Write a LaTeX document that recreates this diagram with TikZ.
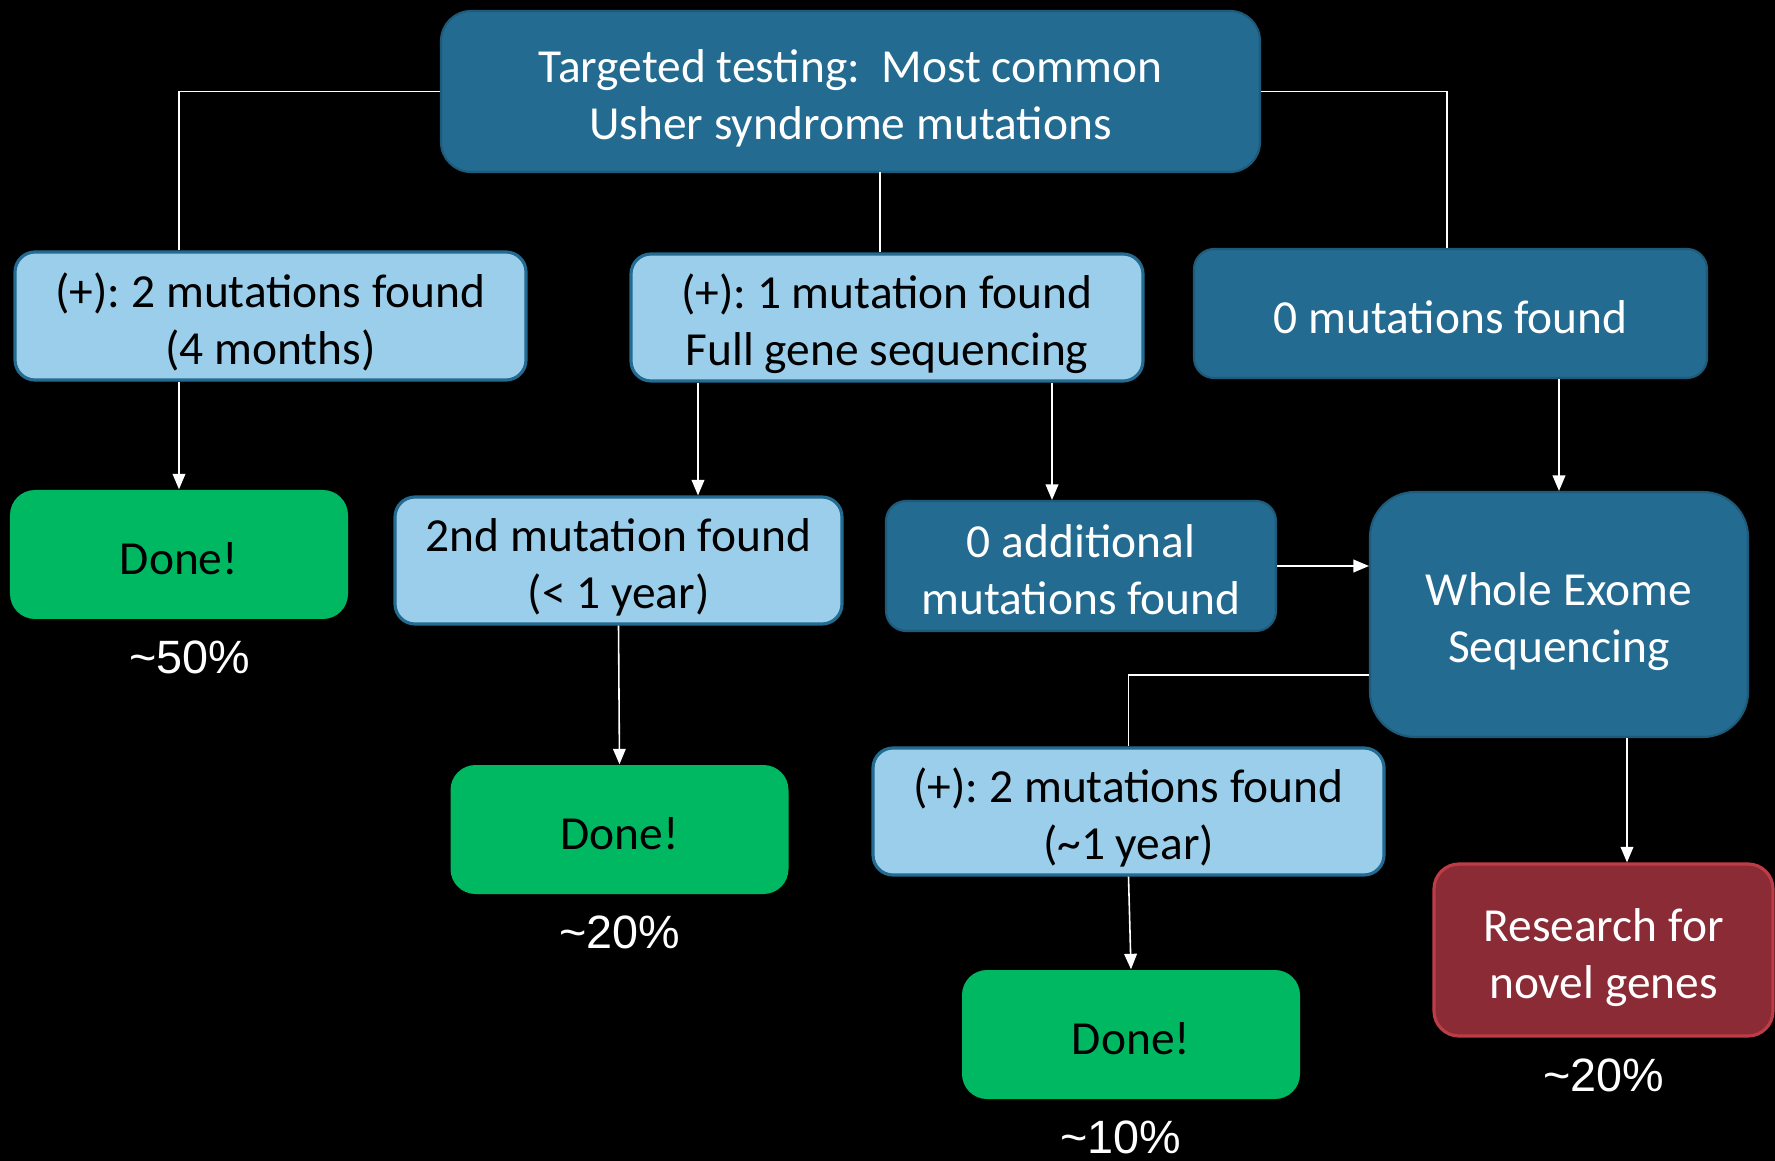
\documentclass[tikz,border=0pt]{standalone}
\usepackage{fontspec}
\setmainfont{Carlito}
\newfontfamily\pctfont{Liberation Sans}
\usetikzlibrary{positioning, arrows.meta}
\definecolor{usherblue}{RGB}{35,107,144}
\definecolor{lightblue}{RGB}{155,206,234}
\definecolor{donegreen}{RGB}{0,184,98}
\definecolor{novelred}{RGB}{138,43,54}
\definecolor{novelborder}{RGB}{190,60,70}
\frenchspacing
% centred lines with fixed top and bottom struts
\newcommand{\boxlines}[2]{\rule{0pt}{1.05em}#1\\#2\rule[-0.22em]{0pt}{0pt}}
\newcommand{\boxline}[1]{\rule{0pt}{1.05em}#1\rule[-0.22em]{0pt}{0pt}}

\begin{document}
\begin{tikzpicture}[
    box/.style={rectangle, rounded corners=0.2cm, align=center, inner sep=0pt, font=\fontsize{13.5}{16.2}\selectfont},
    darkbox/.style={box, fill=usherblue, draw=usherblue!85!black, line width=0.6pt, text=white},
    lightbox/.style={box, fill=lightblue, draw=usherblue, line width=0.9pt, text=black},
    donebox/.style={box, fill=donegreen, text=black, rounded corners=0.25cm, minimum width=3.38cm, minimum height=1.29cm},
    pct/.style={font=\pctfont\fontsize{13.3}{16}\selectfont, text=white},
    link/.style={white, line width=0.45pt},
    arr/.style={link, -{Triangle[width=3.6pt,length=4.4pt]}}
]
    \fill[black] (0,0) rectangle (17.75,-11.61);
    \useasboundingbox (0,0) rectangle (17.75,-11.61);

    % first test
    \node[darkbox, rounded corners=0.3cm, minimum width=8.19cm, minimum height=1.61cm] (targeted) at (8.505,-0.915) {\boxlines{Targeted testing:\ \ Most common}{Usher syndrome mutations}};

    % results of the first test
    \node[lightbox, minimum width=5.11cm, minimum height=1.28cm] (twofound) at (2.705,-3.16) {\boxlines{(+): 2 mutations found}{(4 months)}};
    \node[lightbox, minimum width=5.12cm, minimum height=1.27cm] (onefound) at (8.87,-3.175) {\boxlines{(+): 1 mutation found}{Full gene sequencing}};
    \node[darkbox, minimum width=5.13cm, minimum height=1.29cm] (nonefound) at (14.505,-3.135) {\boxline{0 mutations found}};

    % second row
    \node[donebox] (doneA) at (1.79,-5.545) {\boxline{Done!}};
    \node[lightbox, minimum width=4.47cm, minimum height=1.27cm] (second) at (6.185,-5.605) {\boxlines{2nd mutation found}{(< 1 year)}};
    \node[darkbox, minimum width=3.90cm, minimum height=1.30cm] (noextra) at (10.81,-5.66) {\boxlines{0 additional}{mutations found}};
    \node[darkbox, rounded corners=0.45cm, minimum width=3.78cm, minimum height=2.45cm] (exome) at (15.59,-6.145) {\boxlines{Whole Exome}{Sequencing}};

    % third row
    \node[donebox] (doneB) at (6.195,-8.295) {\boxline{Done!}};
    \node[lightbox, minimum width=5.11cm, minimum height=1.27cm] (exomefound) at (11.285,-8.115) {\boxlines{(+): 2 mutations found}{(\textasciitilde1 year)}};
    \node[box, fill=novelred, draw=novelborder, line width=0.9pt, text=white, rounded corners=0.25cm, minimum width=3.39cm, minimum height=1.72cm] (novel) at (16.035,-9.50) {\boxlines{Research for}{novel genes}};
    \node[donebox] (doneC) at (11.31,-10.345) {\boxline{Done!}};

    % shares
    \node[pct, below=0.09cm of doneA, xshift=0.11cm] (pctA) {\textasciitilde50\%};
    \node[pct, below=0.09cm of doneB] (pctB) {\textasciitilde20\%};
    \node[pct, below=0.09cm of doneC, xshift=-0.1cm] (pctC) {\textasciitilde10\%};
    \node[pct, below=0.09cm of novel] (pctD) {\textasciitilde20\%};

    % branch points
    \coordinate (midtop) at (8.80,-1.72);
    \coordinate (exomeleft) at ([yshift=-0.605cm]exome.west);
    \coordinate (exomedown) at ([xshift=0.68cm]exome.south);

    % connectors
    \draw[link] (targeted.west) -| (doneA.north |- twofound.north);
    \draw[link] (midtop) -- (midtop |- onefound.north);
    \draw[link] (targeted.east) -| (nonefound.north -| 14.47,0);

    \draw[arr] (doneA.north |- twofound.south) -- (doneA.north);
    \draw[arr] (6.98,0 |- onefound.south) -- (6.98,0 |- second.north);
    \draw[arr] (10.52,0 |- onefound.south) -- (10.52,0 |- noextra.north);
    \draw[arr] (exome.north |- nonefound.south) -- (exome.north);
    \draw[arr] (second.south) -- (doneB.north);
    \draw[arr] (noextra.east) -- (noextra.east -| exome.west);
    \draw[link] (exomeleft) -| (exomefound.north);
    \draw[arr] (exomefound.south) -- (doneC.north);
    \draw[arr] (exomedown) -- (exomedown |- novel.north);
\end{tikzpicture}
\end{document}
